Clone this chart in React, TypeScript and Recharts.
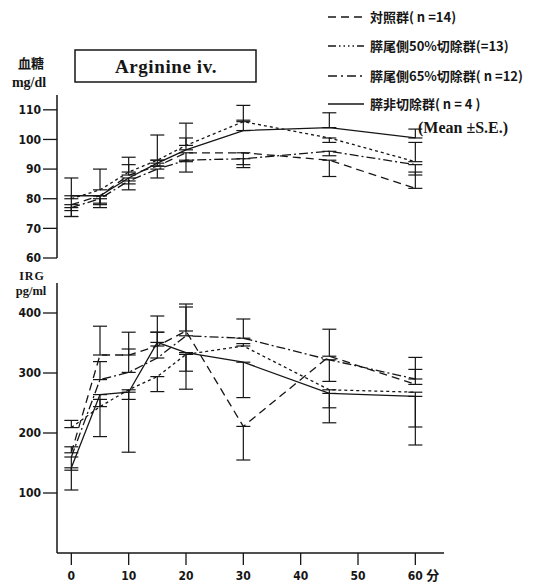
import React from 'react';
import { LineChart, Line, XAxis, YAxis, ErrorBar } from 'recharts';

// time points (minutes)
const times = [0, 5, 10, 15, 20, 30, 45, 60];
const xTicks = [0, 10, 20, 30, 40, 50, 60];
const gluTicks = [60, 70, 80, 90, 100, 110];
const irgTicks = [100, 200, 300, 400];

// 血糖 mg/dl (mean) and S.E. as [down, up]
const gluCtrl = [78, 81, 88, 91, 95.5, 95.5, 93, 83.5];
const gluCtrlSE = [[4, 0], [2.5, 0], [0, 3.5], [0, 2], [3, 0], [4, 0], [5.5, 0], [0, 5.5]];
const glu50 = [80, 83, 89, 93, 98, 106, 100.5, 92.5];
const glu50SE = [[0, 7], [0, 7], [0, 5], [0, 8.5], [0, 7.5], [0, 5.5], [1.5, 0], [0, 6.5]];
const glu65 = [77, 80, 86, 90, 93, 93.5, 96, 91.5];
const glu65SE = [[3, 0], [2, 0], [3, 0], [3, 0], [4, 0], [3, 0], [1.5, 0], [3.5, 0]];
const gluNon = [81, 81, 87, 92, 96.5, 103, 104, 100.5];
const gluNonSE = [[5, 0], [4, 0], [2, 0], [1, 0], [0, 4], [0, 3.5], [0, 5], [0, 3]];

// IRG pg/ml (mean) and S.E. as [down, up]
const irgCtrl = [167, 330, 330, 345, 370, 211, 328, 281];
const irgCtrlSE = [[0, 10], [0, 48], [0, 38], [0, 50], [0, 45], [56, 0], [0, 45], [0, 25]];
const irg50 = [209, 244, 272, 294, 331, 345, 272, 268];
const irg50SE = [[0, 12], [0, 12], [16, 0], [25, 0], [58, 0], [0, 4], [30, 0], [58, 0]];
const irg65 = [160, 289, 301, 325, 362, 358, 322, 290];
const irg65SE = [[22, 0], [0, 30], [0, 39], [0, 43], [0, 48], [0, 32], [36, 0], [0, 36]];
const irgNon = [142, 264, 268, 351, 334, 318, 266, 261];
const irgNonSE = [[37, 0], [70, 0], [100, 0], [0, 17], [31, 0], [59, 0], [49, 0], [81, 0]];

const legendLabels = ['対照群( n =14)', '膵尾側50%切除群(=13)', '膵尾側65%切除群( n =12)', '膵非切除群( n = 4 )'];

const gluRows = times.map((t, i) => ({
  t,
  ctrl: gluCtrl[i], ctrlE: gluCtrlSE[i],
  p50: glu50[i], p50E: glu50SE[i],
  p65: glu65[i], p65E: glu65SE[i],
  non: gluNon[i], nonE: gluNonSE[i],
}));

const irgRows = times.map((t, i) => ({
  t,
  ctrl: irgCtrl[i], ctrlE: irgCtrlSE[i],
  p50: irg50[i], p50E: irg50SE[i],
  p65: irg65[i], p65E: irg65SE[i],
  non: irgNon[i], nonE: irgNonSE[i],
}));

const series = [
  { key: 'ctrl', dash: '8 5', legendDash: '8 5' },
  { key: 'p50', dash: '3 3', legendDash: '8 3 1.5 3 1.5 3 1.5 3 1.5 3' },
  { key: 'p65', dash: '9 3 2 3', legendDash: '9 4 2 4' },
  { key: 'non', dash: undefined as string | undefined, legendDash: undefined as string | undefined },
];

const INK = '#161616';
const numFont = "'DejaVu Sans Condensed', 'Liberation Sans Narrow', 'DejaVu Sans', sans-serif";
const cjkFont = "'Noto Sans CJK JP', 'Noto Sans CJK SC', sans-serif";
const serifFont = "'Liberation Serif', 'DejaVu Serif', serif";

const X_DOMAIN: [number, number] = [-2.5, 65];

const XTick = (props: any) => {
  const { x, y, payload } = props;
  return (
    <g>
      <text x={x} y={y} dy="0.71em" textAnchor="middle" fontFamily={numFont} fontWeight="bold" fontSize={12} fill={INK}>
        {payload.value}
      </text>
      {payload.value === 60 && (
        <text x={x + 11} y={y} dy="0.71em" textAnchor="start" fontFamily={cjkFont} fontWeight="bold" fontSize={13} fill={INK}>
          分
        </text>
      )}
    </g>
  );
};

const renderLines = () =>
  series.map((s) => (
    <Line
      key={s.key}
      type="linear"
      dataKey={s.key}
      stroke={INK}
      strokeWidth={1.3}
      strokeDasharray={s.dash}
      dot={false}
      activeDot={false}
      isAnimationActive={false}
    >
      <ErrorBar dataKey={s.key + 'E'} width={7} stroke={INK} strokeWidth={1.2} direction="y" isAnimationActive={false} />
    </Line>
  ));

const yTick = { fontFamily: numFont, fontWeight: 'bold', fontSize: 12, fill: INK };

export default function App() {
  return (
    <div style={{ position: 'absolute', left: 0, top: 0, width: 541, height: 586, background: '#fff' }}>
      <div style={{ position: 'absolute', left: 0, top: 0 }}>
        <LineChart width={541} height={270} data={gluRows} margin={{ top: 95, right: 97, bottom: 12, left: 12 }}>
          <XAxis type="number" dataKey="t" domain={X_DOMAIN} allowDataOverflow hide />
          <YAxis
            type="number"
            domain={[60, 115]}
            ticks={gluTicks}
            width={45}
            allowDataOverflow
            tickSize={14}
            tickMargin={2}
            axisLine={{ stroke: INK, strokeWidth: 1.5 }}
            tickLine={{ stroke: INK, strokeWidth: 1.3 }}
            tick={yTick}
            interval={0}
          />
          {renderLines()}
        </LineChart>
      </div>
      <div style={{ position: 'absolute', left: 0, top: 0 }}>
        <LineChart width={541} height={586} data={irgRows} margin={{ top: 283, right: 97, bottom: 3, left: 12 }}>
          <XAxis
            type="number"
            dataKey="t"
            domain={X_DOMAIN}
            ticks={xTicks}
            allowDataOverflow
            height={30}
            tickSize={12}
            tickMargin={6}
            axisLine={{ stroke: INK, strokeWidth: 1.5 }}
            tickLine={{ stroke: INK, strokeWidth: 1.3 }}
            tick={<XTick />}
            interval={0}
          />
          <YAxis
            type="number"
            domain={[0, 450]}
            ticks={irgTicks}
            width={45}
            allowDataOverflow
            tickSize={14}
            tickMargin={2}
            axisLine={{ stroke: INK, strokeWidth: 1.5 }}
            tickLine={{ stroke: INK, strokeWidth: 1.3 }}
            tick={yTick}
            interval={0}
          />
          {renderLines()}
        </LineChart>
      </div>
      <svg width={541} height={586} style={{ position: 'absolute', left: 0, top: 0, pointerEvents: 'none' }}>
        {/* title box */}
        <rect x={75} y={50} width={181} height={32} fill="none" stroke={INK} strokeWidth={1.5} />
        <text x={166} y={73} textAnchor="middle" fontFamily={serifFont} fontWeight="bold" fontSize={19} letterSpacing={0.6} fill={INK}>
          Arginine iv.
        </text>
        {/* axis titles */}
        <text x={31} y={68} textAnchor="middle" fontFamily={cjkFont} fontWeight="bold" fontSize={13} fill={INK}>血糖</text>
        <text x={29} y={87} textAnchor="middle" fontFamily={serifFont} fontWeight="bold" fontSize={14} fill={INK}>mg/dl</text>
        <text x={32} y={280} textAnchor="middle" fontFamily={serifFont} fontWeight="bold" fontSize={12} letterSpacing={1} fill={INK}>IRG</text>
        <text x={31} y={295} textAnchor="middle" fontFamily={serifFont} fontWeight="bold" fontSize={12.5} fill={INK}>pg/ml</text>
        {/* legend */}
        {series.map((s, i) => {
          const cy = [17, 46, 76, 104][i];
          return (
            <g key={s.key}>
              <line x1={328} x2={364} y1={cy} y2={cy} stroke={INK} strokeWidth={1.4} strokeDasharray={s.legendDash} />
              <text x={370} y={cy + 5} fontFamily={cjkFont} fontWeight="bold" fontSize={13} fill={INK}>
                {legendLabels[i]}
              </text>
            </g>
          );
        })}
        <text x={418} y={133} fontFamily={serifFont} fontWeight="bold" fontSize={16} fill={INK}>(Mean ±S.E.)</text>
      </svg>
    </div>
  );
}
